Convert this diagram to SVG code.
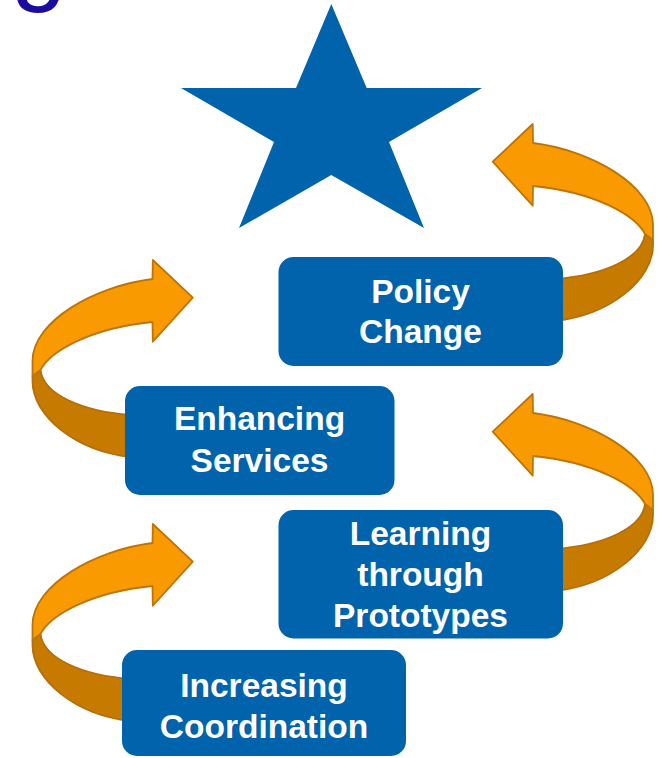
<svg xmlns="http://www.w3.org/2000/svg" xmlns:xlink="http://www.w3.org/1999/xlink" width="666" height="758" viewBox="0 0 666 758">
  <style>
    .box { fill: #0063AB; }
    .lbl { font-family: "Liberation Sans", Arial, sans-serif; font-weight: bold; font-size: 33.5px; fill: #FFFFFF; text-anchor: middle; }
    .light { fill: #F99A00; stroke: #BD7406; stroke-width: 1.8; stroke-linejoin: round; }
    .dark { fill: #C77A00; stroke: #B56F06; stroke-width: 1.8; stroke-linejoin: round; }
    .star { fill: #0063AB; }
    .title { font-family: "Liberation Sans", Arial, sans-serif; font-size: 100px; fill: #1B0CA0; }
  </style>
  <defs>
    <g id="curl">
      <path class="dark" d="M 645,234 L 653,240 L 653,245 C 653,280 610,315 555,321 L 555,279 C 605,275 642,258 645,234 Z"/>
      <path class="light" d="M 492.7,161.7 L 532.7,124 L 533,143 C 590,150 653,185 653,225 L 653,240 L 645,234 C 635,215 595,192 533,186 L 532.7,205.7 Z"/>
    </g>
  </defs>

  <text class="title" x="11" y="-8">g</text>

  <g id="star">
    <polygon class="star" points="331.3,4 366.7,88 482,88 389,142 424,228 331.3,175 239,228 274,142 181,88 296,88"/>
  </g>

  <g id="connectors">
    <use xlink:href="#curl" href="#curl"/>
    <use xlink:href="#curl" href="#curl" transform="translate(0,270)"/>
    <use xlink:href="#curl" href="#curl" transform="translate(685.5,136) scale(-1,1)"/>
    <use xlink:href="#curl" href="#curl" transform="translate(685.5,400) scale(-1,1)"/>
  </g>

  <g id="policy-change">
    <rect class="box" x="278.5" y="257" width="284.5" height="109" rx="15" ry="15"/>
    <text class="lbl" x="420.5" y="302.5">Policy</text>
    <text class="lbl" x="420.5" y="342.7">Change</text>
  </g>

  <g id="enhancing-services">
    <rect class="box" x="125" y="386" width="269.5" height="109" rx="15" ry="15"/>
    <text class="lbl" x="259.5" y="430">Enhancing</text>
    <text class="lbl" x="259.5" y="471.7">Services</text>
  </g>

  <g id="learning-through-prototypes">
    <rect class="box" x="278.5" y="510" width="284.5" height="128.5" rx="15" ry="15"/>
    <text class="lbl" x="420.5" y="545">Learning</text>
    <text class="lbl" x="420.5" y="585.5">through</text>
    <text class="lbl" x="420.5" y="626.7">Prototypes</text>
  </g>

  <g id="increasing-coordination">
    <rect class="box" x="122" y="650" width="284" height="106" rx="15" ry="15"/>
    <text class="lbl" x="264" y="697.3">Increasing</text>
    <text class="lbl" x="264" y="737.5">Coordination</text>
  </g>
</svg>
